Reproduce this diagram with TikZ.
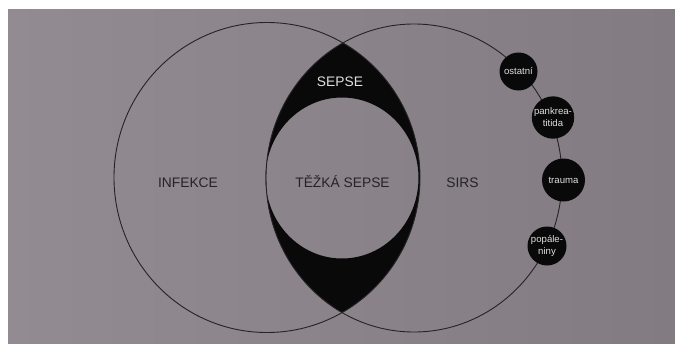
\documentclass[tikz,border=0pt]{standalone}
\usepackage{fontspec}
\setmainfont{Liberation Sans}
\definecolor{paperL}{RGB}{146,139,145}
\definecolor{paperR}{RGB}{130,124,130}
\definecolor{ink}{RGB}{38,34,37}
\definecolor{blob}{RGB}{10,9,10}
\definecolor{blobtext}{RGB}{225,222,225}
\tikzset{
  outline/.style={draw=ink, line width=0.9pt},
  biglabel/.style={font=\fontsize{13.8}{15}\selectfont, text=ink, inner sep=0pt, anchor=base},
  blobnode/.style={circle, fill=blob, inner sep=0pt, text=blobtext, align=center,
    font=\fontsize{9.6}{12}\selectfont},
}
\begin{document}
\begin{tikzpicture}[x=1pt,y=-1pt]
\useasboundingbox (0,0) rectangle (675,343);
\fill[white] (0,0) rectangle (675,343);
\shade[left color=paperL, right color=paperR] (8,9) rectangle (675,343);
% filled lens (SEPSE) minus inner circle (TĚŽKÁ SEPSE)
\begin{scope}
  \clip (267,177.5) ellipse [x radius=153pt, y radius=155pt];
  \fill[blob, even odd rule] (414,178) ellipse [x radius=148pt, y radius=154pt]
     (342,178) ellipse [x radius=76.5pt, y radius=80.5pt];
\end{scope}
% outlines
\draw[outline] (267,177.5) ellipse [x radius=153pt, y radius=155pt];
\draw[outline] (414,178) ellipse [x radius=148pt, y radius=154pt];
% labels
\node[biglabel] (infekce) at (188,187.5) {INFEKCE};
\node[biglabel] (tezka) at (342.5,187.5) {TĚŽKÁ SEPSE};
\node[biglabel] (sirs) at (462.5,187.5) {SIRS};
\node[biglabel, text=blobtext] (sepse) at (340,86.5) {SEPSE};
% small circles on SIRS
\node[blobnode, minimum size=38pt] (ostatni) at (518.5,71.5) {ostatní};
\node[blobnode, minimum size=41pt] (pankreatitida) at (553,117.5) {pankrea-\\titida};
\node[blobnode, minimum size=43pt] (trauma) at (563.5,180) {trauma};
\node[blobnode, minimum size=39pt] (popaleniny) at (547,246) {popále-\\niny};
\end{tikzpicture}
\end{document}
